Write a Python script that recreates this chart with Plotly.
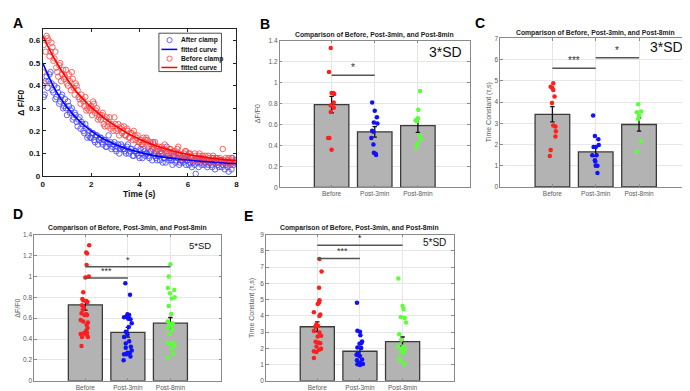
import plotly.graph_objects as go

W, H = 690, 391
FONT = "Liberation Sans, Arial, sans-serif"

# ---------------- Panel A data ----------------
TIME = [0.00, 0.08, 0.16, 0.24, 0.32, 0.40, 0.48, 0.56, 0.64, 0.72,
        0.80, 0.88, 0.96, 1.04, 1.12, 1.20, 1.28, 1.36, 1.44, 1.52,
        1.60, 1.68, 1.76, 1.84, 1.92, 2.00, 2.08, 2.16, 2.24, 2.32,
        2.40, 2.48, 2.56, 2.64, 2.72, 2.80, 2.88, 2.96, 3.04, 3.12,
        3.20, 3.28, 3.36, 3.44, 3.52, 3.60, 3.68, 3.76, 3.84, 3.92,
        4.00, 4.08, 4.16, 4.24, 4.32, 4.40, 4.48, 4.56, 4.64, 4.72,
        4.80, 4.88, 4.96, 5.04, 5.12, 5.20, 5.28, 5.36, 5.44, 5.52,
        5.60, 5.68, 5.76, 5.84, 5.92, 6.00, 6.08, 6.16, 6.24, 6.32,
        6.40, 6.48, 6.56, 6.64, 6.72, 6.80, 6.88, 6.96, 7.04, 7.12,
        7.20, 7.28, 7.36, 7.44, 7.52, 7.60, 7.68, 7.76, 7.84, 7.92]

AFTER_OBS = [0.40, 0.36, 0.44, 0.42, 0.46, 0.38,
             0.40, 0.35, 0.37, 0.33, 0.36, 0.31,
             0.30, 0.33, 0.28, 0.30, 0.26, 0.27,
             0.22, 0.26, 0.24, 0.20, 0.23, 0.17,
             0.20, 0.17, 0.19, 0.15, 0.18, 0.16,
             0.17, 0.14, 0.16, 0.13, 0.18, 0.15,
             0.13, 0.15, 0.11, 0.14, 0.12, 0.13,
             0.12, 0.10, 0.14, 0.11, 0.12, 0.09,
             0.11, 0.13, 0.08, 0.10, 0.12, 0.09,
             0.10, 0.08, 0.11, 0.15, 0.09, 0.07,
             0.09, 0.11, 0.06, 0.08, 0.13, 0.07,
             0.08, 0.05, 0.09, 0.07, 0.10, 0.06,
             0.07, 0.08, 0.05, 0.09, 0.06, 0.04,
             0.07, 0.01, 0.06, 0.08, 0.05, 0.07,
             0.06, 0.04, 0.07, 0.05, 0.08, 0.03,
             0.06, 0.04, 0.07, 0.05, 0.03, 0.06,
             0.02, 0.05, 0.08, 0.06]

BEFORE_OBS = [0.46, 0.41, 0.62, 0.60, 0.55, 0.57,
              0.52, 0.48, 0.44, 0.50, 0.45, 0.43,
              0.47, 0.40, 0.42, 0.46, 0.39, 0.41,
              0.38, 0.34, 0.36, 0.33, 0.35, 0.30,
              0.29, 0.31, 0.33, 0.28, 0.30, 0.26,
              0.25, 0.28, 0.22, 0.26, 0.24, 0.21,
              0.22, 0.26, 0.20, 0.23, 0.21, 0.19,
              0.22, 0.18, 0.20, 0.17, 0.19, 0.20,
              0.16, 0.18, 0.15, 0.14, 0.17, 0.16,
              0.16, 0.13, 0.14, 0.12, 0.15, 0.11,
              0.13, 0.10, 0.12, 0.14, 0.11, 0.10,
              0.12, 0.09, 0.11, 0.10, 0.13, 0.09,
              0.08, 0.10, 0.11, 0.09, 0.10, 0.08,
              0.07, 0.09, 0.08, 0.10, 0.08, 0.06,
              0.09, 0.07, 0.08, 0.06, 0.09, 0.07,
              0.08, 0.06, 0.07, 0.12, 0.07, 0.05,
              0.08, 0.06, 0.07, 0.06]

# second, interleaved set of samples (between the first ones)
TIME2 = [0.04, 0.12, 0.20, 0.28, 0.36, 0.44, 0.52, 0.60, 0.68, 0.76,
         0.84, 0.92, 1.00, 1.08, 1.16, 1.24, 1.32, 1.40, 1.48, 1.56,
         1.64, 1.72, 1.80, 1.88, 1.96, 2.04, 2.12, 2.20, 2.28, 2.36,
         2.44, 2.52, 2.60, 2.68, 2.76, 2.84, 2.92, 3.00, 3.08, 3.16,
         3.24, 3.32, 3.40, 3.48, 3.56, 3.64, 3.72, 3.80, 3.88, 3.96,
         4.04, 4.12, 4.20, 4.28, 4.36, 4.44, 4.52, 4.60, 4.68, 4.76,
         4.84, 4.92, 5.00, 5.08, 5.16, 5.24, 5.32, 5.40, 5.48, 5.56,
         5.64, 5.72, 5.80, 5.88, 5.96, 6.04, 6.12, 6.20, 6.28, 6.36,
         6.44, 6.52, 6.60, 6.68, 6.76, 6.84, 6.92, 7.00, 7.08, 7.16,
         7.24, 7.32, 7.40, 7.48, 7.56, 7.64, 7.72, 7.80, 7.88, 7.96]

AFTER_OBS2 = [0.35, 0.42, 0.39, 0.45, 0.41, 0.37,
              0.34, 0.39, 0.32, 0.35, 0.30, 0.34,
              0.27, 0.31, 0.29, 0.25, 0.28, 0.24,
              0.25, 0.21, 0.23, 0.19, 0.21, 0.18,
              0.17, 0.19, 0.16, 0.18, 0.14, 0.17,
              0.15, 0.16, 0.13, 0.15, 0.14, 0.12,
              0.14, 0.12, 0.13, 0.10, 0.14, 0.12,
              0.11, 0.13, 0.10, 0.12, 0.09, 0.11,
              0.10, 0.09, 0.12, 0.08, 0.11, 0.10,
              0.09, 0.11, 0.07, 0.10, 0.08, 0.09,
              0.07, 0.10, 0.08, 0.06, 0.09, 0.08,
              0.07, 0.09, 0.06, 0.08, 0.05, 0.07,
              0.06, 0.09, 0.07, 0.05, 0.08, 0.06,
              0.05, 0.07, 0.04, 0.06, 0.07, 0.05,
              0.07, 0.05, 0.06, 0.04, 0.06, 0.07,
              0.05, 0.07, 0.04, 0.06, 0.05, 0.04,
              0.06, 0.03, 0.05, 0.07]

BEFORE_OBS2 = [0.58, 0.55, 0.61, 0.53, 0.59, 0.51,
               0.55, 0.46, 0.49, 0.42, 0.47, 0.44,
               0.41, 0.45, 0.38, 0.43, 0.36, 0.40,
               0.35, 0.32, 0.34, 0.31, 0.29, 0.32,
               0.30, 0.27, 0.32, 0.29, 0.25, 0.27,
               0.27, 0.23, 0.25, 0.22, 0.26, 0.23,
               0.20, 0.23, 0.21, 0.18, 0.22, 0.20,
               0.18, 0.21, 0.17, 0.19, 0.16, 0.18,
               0.17, 0.15, 0.16, 0.14, 0.15, 0.17,
               0.14, 0.15, 0.12, 0.14, 0.13, 0.12,
               0.11, 0.13, 0.12, 0.10, 0.11, 0.12,
               0.10, 0.11, 0.09, 0.12, 0.10, 0.08,
               0.09, 0.11, 0.08, 0.10, 0.09, 0.07,
               0.10, 0.08, 0.09, 0.07, 0.09, 0.08,
               0.07, 0.09, 0.06, 0.08, 0.07, 0.08,
               0.06, 0.08, 0.07, 0.06, 0.08, 0.07,
               0.06, 0.08, 0.05, 0.07]

FIT_TIME = [0.0, 0.5, 1.0, 1.5, 2.0, 2.5, 3.0, 3.5, 4.0,
            4.5, 5.0, 5.5, 6.0, 6.5, 7.0, 7.5, 8.0]
AFTER_FIT = [0.50, 0.385, 0.305, 0.245, 0.20, 0.165, 0.14, 0.12, 0.105,
             0.093, 0.084, 0.077, 0.071, 0.066, 0.062, 0.058, 0.055]
BEFORE_FIT = [0.62, 0.515, 0.43, 0.36, 0.305, 0.26, 0.222, 0.19, 0.163,
              0.141, 0.123, 0.108, 0.096, 0.087, 0.079, 0.073, 0.068]

A_LEGEND = ["After clamp", "fitted curve", "Before clamp", "fitted curve"]

# ---------------- Bar panels data ----------------
CATS = ["Before", "Post-3min", "Post-8min"]
CAT_POS = [1, 2, 3]
BAR_TITLE = "Comparison of Before, Post-3min, and Post-8min"

# B: dF/F0, 3*SD
B_MEAN = [0.79, 0.53, 0.59]
B_SEM = [0.078, 0.05, 0.065]
B_BEFORE_Y = [1.33, 1.10, 0.90, 0.90, 0.89, 0.81, 0.78, 0.76, 0.72, 0.47, 0.47, 0.36]
B_BEFORE_DX = [-0.02, -0.06, 0.0, 0.04, 0.06, 0.05, -0.02, 0.05, -0.02, -0.08, -0.05, 0.0]
B_P3_Y = [0.81, 0.73, 0.67, 0.62, 0.61, 0.54, 0.53, 0.47, 0.41, 0.33, 0.32, 0.31]
B_P3_DX = [-0.06, 0.0, 0.05, -0.02, 0.06, -0.06, -0.03, -0.08, -0.03, -0.02, 0.02, 0.03]
B_P8_Y = [0.92, 0.74, 0.66, 0.64, 0.63, 0.50, 0.46, 0.42, 0.38]
B_P8_DX = [0.05, 0.01, 0.0, -0.05, -0.03, 0.05, 0.07, -0.01, -0.04]
B_SIG_PAIRS = [[1, 2]]
B_SIG_Y = [1.07]
B_SIG_TXT = ["*"]
B_SIG_TXT_X = [1.5]

# C: time constant, 3*SD
C_MEAN = [3.42, 1.65, 2.94]
C_SEM = [0.36, 0.21, 0.31]
C_BEFORE_Y = [4.89, 4.72, 4.66, 4.57, 4.26, 3.95, 2.89, 2.85, 2.62, 2.37, 1.74, 1.46]
C_BEFORE_DX = [0.02, -0.04, 0.0, 0.02, 0.05, -0.01, 0.02, 0.07, 0.08, 0.07, -0.04, -0.06]
C_P3_Y = [3.37, 2.40, 2.25, 1.98, 1.88, 1.88, 1.49, 1.49, 1.26, 1.20, 1.00, 1.00, 0.66]
C_P3_DX = [-0.06, -0.02, 0.06, 0.07, -0.05, 0.0, -0.08, 0.02, -0.02, -0.01, 0.0, 0.04, 0.04]
C_P8_Y = [3.90, 3.52, 3.55, 3.35, 3.20, 2.16, 1.67]
C_P8_DX = [-0.02, -0.05, 0.05, 0.0, -0.02, 0.05, -0.05]
C_SIG_PAIRS = [[1, 2], [2, 3]]
C_SIG_Y = [5.59, 6.09]
C_SIG_TXT = ["***", "*"]
C_SIG_TXT_X = [1.5, 2.5]

# D: dF/F0, 5*SD
D_MEAN = [0.728, 0.465, 0.552]
D_SEM = [0.05, 0.047, 0.055]
D_BEFORE_Y = [1.30, 1.23, 1.22, 1.11, 1.00, 0.99, 0.85, 0.785, 0.77, 0.766, 0.756,
              0.725, 0.70, 0.68, 0.647, 0.637, 0.63, 0.63, 0.584, 0.568, 0.56,
              0.537, 0.505, 0.48, 0.458, 0.458, 0.449, 0.443, 0.42, 0.42, 0.333]
D_BEFORE_DX = [0.09, 0.02, 0.04, 0.03, 0.08, 0.0, -0.05, -0.07, -0.05, 0.02, 0.05,
               -0.08, -0.03, -0.06, -0.09, 0.02, -0.02, 0.04, -0.11, -0.05, 0.06,
               0.03, 0.05, 0.02, -0.03, 0.04, -0.11, 0.02, -0.08, 0.06, -0.09]
D_P3_Y = [0.935, 0.825, 0.637, 0.63, 0.615, 0.596, 0.61, 0.59, 0.552, 0.515, 0.47,
          0.443, 0.42, 0.38, 0.358, 0.326, 0.317, 0.29, 0.27, 0.264, 0.254, 0.254,
          0.232, 0.198]
D_P3_DX = [-0.06, 0.05, -0.01, 0.03, -0.04, 0.01, -0.09, 0.06, 0.09, 0.02, -0.05,
           -0.01, -0.09, 0.03, -0.05, 0.07, -0.05, 0.09, -0.01, 0.04, -0.09, -0.03,
           0.06, -0.10]
D_P8_Y = [1.117, 1.00, 0.89, 0.87, 0.84, 0.79, 0.80, 0.716, 0.64, 0.568, 0.546,
          0.552, 0.508, 0.527, 0.49, 0.449, 0.364, 0.358, 0.364, 0.333, 0.307,
          0.254, 0.223]
D_P8_DX = [0.0, -0.04, -0.06, 0.09, -0.01, 0.03, 0.10, -0.04, 0.02, -0.06, -0.02,
           0.05, -0.05, 0.02, 0.04, -0.02, -0.06, 0.0, 0.06, 0.10, 0.03, 0.07, -0.07]
D_SIG_PAIRS = [[1, 3], [1, 2]]
D_SIG_Y = [1.094, 0.985]
D_SIG_TXT = ["*", "***"]
D_SIG_TXT_X = [2.0, 1.5]

# E: time constant, 5*SD
E_MEAN = [3.33, 1.82, 2.42]
E_SEM = [0.30, 0.25, 0.28]
E_BEFORE_Y = [7.50, 6.73, 5.73, 4.97, 4.83, 4.73, 4.23, 4.09, 3.99, 3.49, 3.33, 3.37,
              3.07, 2.97, 2.77, 2.73, 2.40, 2.36, 2.32, 2.12, 1.98, 1.92, 1.82, 1.78, 1.40]
E_BEFORE_DX = [0.05, 0.10, 0.04, 0.05, 0.04, 0.01, -0.08, 0.07, 0.05, -0.02, -0.05, 0.02,
               -0.08, 0.05, 0.09, 0.01, -0.04, 0.02, 0.07, -0.02, 0.09, 0.04, -0.08, -0.02, -0.08]
E_P3_Y = [4.81, 3.09, 3.03, 2.81, 2.42, 2.32, 2.28, 2.06, 2.02, 1.72, 1.60, 1.52,
          1.32, 1.26, 1.12, 1.04, 1.02, 0.98]
E_P3_DX = [-0.07, -0.06, 0.0, 0.01, 0.05, 0.03, -0.01, -0.06, 0.03, -0.05, -0.08, -0.01,
           0.05, -0.07, 0.0, 0.07, -0.06, 0.0]
E_P8_Y = [6.31, 4.61, 4.43, 3.93, 3.87, 3.59, 2.87, 2.53, 2.12, 2.12, 1.96, 1.82,
          1.72, 1.38, 1.22, 1.00, 2.00]
E_P8_DX = [-0.10, 0.0, 0.02, -0.04, 0.05, 0.08, -0.08, -0.03, -0.11, 0.02, 0.05, -0.03,
           0.02, -0.09, -0.03, 0.05, 0.0]
E_SIG_PAIRS = [[1, 3], [1, 2]]
E_SIG_Y = [8.35, 7.54]
E_SIG_TXT = ["*", "***"]
E_SIG_TXT_X = [2.0, 1.6]

# ---------------- styling ----------------
BAR_FILL = "#b3b3b3"
BAR_EDGE = "#3a3a3a"
DOT_COLORS = ["#ff1f1f", "#1010ff", "#5cff3a"]
TICK_GRAY = "#5a5a5a"
FRAME_GRAY = "#8a8a8a"


def px_x(p):
    return p / W


def px_y(p):
    return 1 - p / H


fig = go.Figure()

# ---------------- Panel A ----------------
for tt, obs in [(TIME, AFTER_OBS), (TIME2, AFTER_OBS2)]:
    fig.add_trace(go.Scatter(x=tt, y=obs, mode="markers",
                             marker=dict(symbol="circle-open", size=5.5, color="#4040ff",
                                         line=dict(width=0.8)),
                             xaxis="x", yaxis="y", showlegend=False))
for tt, obs in [(TIME, BEFORE_OBS), (TIME2, BEFORE_OBS2)]:
    fig.add_trace(go.Scatter(x=tt, y=obs, mode="markers",
                             marker=dict(symbol="circle-open", size=5.5, color="#ff4040",
                                         line=dict(width=0.8)),
                             xaxis="x", yaxis="y", showlegend=False))
fig.add_trace(go.Scatter(x=FIT_TIME, y=AFTER_FIT, mode="lines",
                         line=dict(color="#0000ff", width=1.6, shape="spline"),
                         xaxis="x", yaxis="y", showlegend=False))
fig.add_trace(go.Scatter(x=FIT_TIME, y=BEFORE_FIT, mode="lines",
                         line=dict(color="#ff0000", width=1.6, shape="spline"),
                         xaxis="x", yaxis="y", showlegend=False))

layout = dict(
    width=W, height=H, margin=dict(l=0, r=0, t=0, b=0),
    paper_bgcolor="white", plot_bgcolor="white",
    font=dict(family=FONT),
    showlegend=False,
)

layout["xaxis"] = dict(
    domain=[px_x(33), px_x(228)], anchor="y", range=[0, 8],
    tickvals=[0, 2, 4, 6, 8], showgrid=False, zeroline=False,
    showline=True, mirror="ticks", linecolor="#222222", linewidth=1,
    ticks="inside", ticklen=3, tickcolor="#222222",
    tickfont=dict(size=8, color="#111111", family=FONT, weight="bold"),
)
layout["yaxis"] = dict(
    domain=[px_y(168), px_y(17.5)], anchor="x", range=[0, 0.65],
    tickvals=[0, 0.1, 0.2, 0.3, 0.4, 0.5, 0.6], showgrid=False, zeroline=False,
    showline=True, mirror="ticks", linecolor="#222222", linewidth=1,
    ticks="inside", ticklen=3, tickcolor="#222222",
    tickfont=dict(size=8, color="#111111", family=FONT, weight="bold"),
)

annotations = []
shapes = []


def note(text, xp, yp, size, color, angle=0, xanchor="center", yanchor="middle"):
    annotations.append(dict(text=text, x=px_x(xp), y=px_y(yp), xref="paper", yref="paper",
                            xanchor=xanchor, yanchor=yanchor, showarrow=False, textangle=angle,
                            font=dict(size=size, color=color)))


note("<b>Time (s)</b>", 130, 186, 8.5, "#111111")
note("<b>Δ F/F0</b>", 11, 93, 8.5, "#111111", angle=-90)

# manual legend for panel A (inside axes, domain coordinates)
shapes.append(dict(type="rect", xref="x domain", yref="y domain", x0=0.60, x1=0.923,
                   y0=0.711, y1=0.972, line=dict(color="#222222", width=0.8), fillcolor="white",
                   layer="above"))
leg_rows = [0.925, 0.862, 0.799, 0.739]
leg_colors = ["#4040ff", "#0000ff", "#ff4040", "#ff0000"]
leg_kind = ["marker", "line", "marker", "line"]
for txt, yy, col, kind in zip(A_LEGEND, leg_rows, leg_colors, leg_kind):
    if kind == "marker":
        shapes.append(dict(type="circle", xref="x domain", yref="y domain",
                           xsizemode="pixel", ysizemode="pixel",
                           xanchor=0.655, yanchor=yy, x0=-2.6, x1=2.6, y0=-2.6, y1=2.6,
                           line=dict(color=col, width=0.8), layer="above"))
    else:
        shapes.append(dict(type="line", xref="x domain", yref="y domain",
                           x0=0.613, x1=0.695, y0=yy, y1=yy,
                           line=dict(color=col, width=1.5), layer="above"))
    annotations.append(dict(text="<b>%s</b>" % txt, xref="x domain", yref="y domain",
                            x=0.705, y=yy, xanchor="left", yanchor="middle", showarrow=False,
                            font=dict(size=6.7, color="#111111")))

# ---------------- bar panels ----------------
PANELS = [
    dict(idx=2, box=(271.8, 463, 29.3, 179.5), yr=[0, 1.4], dt=0.2, ylab="ΔF/F0",
         ylab_x=250, title_y=23.5, sd="3*SD", sd_size=14, sd_pos=(457, 41),
         mean=B_MEAN, sem=B_SEM,
         groups=[(B_BEFORE_Y, B_BEFORE_DX), (B_P3_Y, B_P3_DX), (B_P8_Y, B_P8_DX)],
         sig=(B_SIG_PAIRS, B_SIG_Y, B_SIG_TXT, B_SIG_TXT_X), star=10),
    dict(idx=3, box=(494, 686, 27, 179), yr=[0, 7], dt=1, ylab="Time Constant (τ,s)",
         ylab_x=482, title_y=21, sd="3*SD", sd_size=14, sd_pos=(680, 36),
         mean=C_MEAN, sem=C_SEM,
         groups=[(C_BEFORE_Y, C_BEFORE_DX), (C_P3_Y, C_P3_DX), (C_P8_Y, C_P8_DX)],
         sig=(C_SIG_PAIRS, C_SIG_Y, C_SIG_TXT, C_SIG_TXT_X), star=10),
    dict(idx=4, box=(24.5, 213, 228, 377.5), yr=[0, 1.4], dt=0.2, ylab="ΔF/F0",
         ylab_x=8, title_y=221.5, sd="5*SD", sd_size=9.5, sd_pos=(204, 239),
         mean=D_MEAN, sem=D_SEM,
         groups=[(D_BEFORE_Y, D_BEFORE_DX), (D_P3_Y, D_P3_DX), (D_P8_Y, D_P8_DX)],
         sig=(D_SIG_PAIRS, D_SIG_Y, D_SIG_TXT, D_SIG_TXT_X), star=9),
    dict(idx=5, box=(258, 447, 228, 377.5), yr=[0, 9], dt=1, ylab="Time Constant (τ,s)",
         ylab_x=244, title_y=221, sd="5*SD", sd_size=10, sd_pos=(441, 236),
         mean=E_MEAN, sem=E_SEM,
         groups=[(E_BEFORE_Y, E_BEFORE_DX), (E_P3_Y, E_P3_DX), (E_P8_Y, E_P8_DX)],
         sig=(E_SIG_PAIRS, E_SIG_Y, E_SIG_TXT, E_SIG_TXT_X), star=9),
]

for p in PANELS:
    i = p["idx"]
    xa, ya = "x%d" % i, "y%d" % i
    l, r, t, b = p["box"]
    fig.add_trace(go.Bar(x=CAT_POS, y=p["mean"], width=0.8,
                         marker=dict(color=BAR_FILL, line=dict(color=BAR_EDGE, width=1.3)),
                         error_y=dict(type="data", array=p["sem"], color="#111111",
                                      thickness=1.3, width=2.2),
                         xaxis=xa, yaxis=ya, showlegend=False))
    for (ys, dxs), col, pos in zip(p["groups"], DOT_COLORS, CAT_POS):
        fig.add_trace(go.Scatter(x=[pos + d for d in dxs], y=ys, mode="markers",
                                 marker=dict(color=col, size=4.5, line=dict(width=0)),
                                 xaxis=xa, yaxis=ya, showlegend=False))
    nt = int(round((p["yr"][1] - p["yr"][0]) / p["dt"]))
    yt = [round(p["yr"][0] + k * p["dt"], 2) for k in range(nt + 1)]
    layout["xaxis%d" % i] = dict(
        domain=[px_x(l), px_x(r)], anchor=ya, range=[-0.2, 4.2],
        tickvals=CAT_POS, ticktext=CATS, showgrid=True, gridcolor="#e6e6e6", gridwidth=0.8,
        zeroline=False, showline=True, mirror="ticks", linecolor=FRAME_GRAY, linewidth=1,
        ticks="inside", ticklen=2.5, tickcolor=FRAME_GRAY,
        tickfont=dict(size=6.5, color=TICK_GRAY, family=FONT),
    )
    layout["yaxis%d" % i] = dict(
        domain=[px_y(b), px_y(t)], anchor=xa, range=p["yr"], tickvals=yt,
        showgrid=True, gridcolor="#e6e6e6", gridwidth=0.8,
        zeroline=False, showline=True, mirror="ticks", linecolor=FRAME_GRAY, linewidth=1,
        ticks="inside", ticklen=2.5, tickcolor=FRAME_GRAY,
        tickfont=dict(size=6.5, color=TICK_GRAY, family=FONT),
    )
    note("<b>%s</b>" % BAR_TITLE, (l + r) / 2, p["title_y"], 6.8, "#222222")
    note(p["ylab"], p["ylab_x"], (t + b) / 2, 7, TICK_GRAY, angle=-90)
    note(p["sd"], p["sd_pos"][0], p["sd_pos"][1], p["sd_size"], "#111111", xanchor="right")
    pairs, sy, stxt, sx = p["sig"]
    for (a0, a1), yy, tx, xx in zip(pairs, sy, stxt, sx):
        shapes.append(dict(type="line", xref=xa, yref=ya, x0=a0, x1=a1, y0=yy, y1=yy,
                           line=dict(color="#555555", width=1.5), layer="above"))
        annotations.append(dict(text=tx, x=xx, y=yy, xref=xa, yref=ya, xanchor="center",
                                yanchor="bottom", showarrow=False,
                                font=dict(size=p["star"], color="#333333")))

# panel letters
for letter, (lx, ly) in zip(["A", "B", "C", "D", "E"],
                            [(1, 1), (250, 2), (466, 1), (1, 197), (234, 199)]):
    note("<b>%s</b>" % letter, lx, ly, 14, "#000000", xanchor="left", yanchor="top")

layout["annotations"] = annotations
layout["shapes"] = shapes
fig.update_layout(**layout)
fig.write_html("out.html")
